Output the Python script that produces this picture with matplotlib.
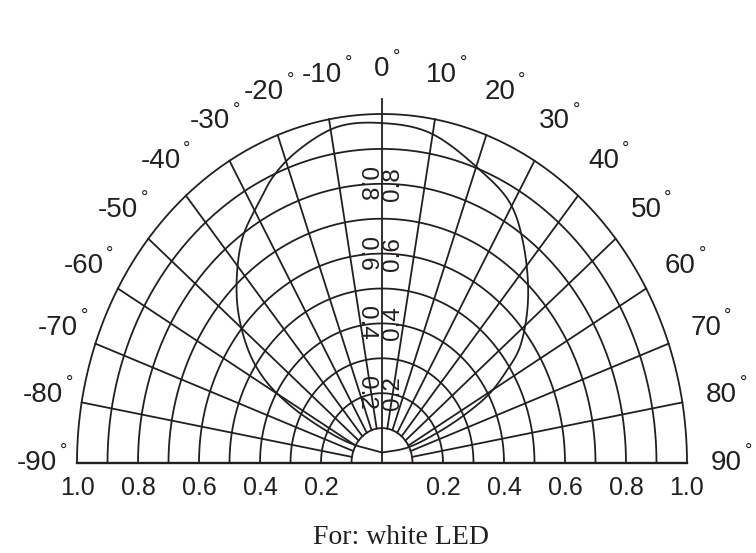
import numpy as np
import matplotlib
matplotlib.use("Agg")
import matplotlib.pyplot as plt

# ---------------- data ----------------
ring_values = [0.1, 0.2, 0.3, 0.4, 0.5, 0.6, 0.7, 0.8, 0.9, 1.0]
spoke_angles = [-80, -70, -60, -50, -40, -30, -20, -10, 10, 20, 30, 40, 50, 60, 70, 80]
angle_labels = [-90, -80, -70, -60, -50, -40, -30, -20, -10, 0, 10, 20, 30, 40, 50, 60, 70, 80, 90]
bottom_ticks = [0.2, 0.4, 0.6, 0.8, 1.0]
axis_ticks = [0.2, 0.4, 0.6, 0.8]

# radiation pattern, traced as one closed loop (angle in degrees, relative intensity)
pattern_deg = [0, -61.5, -63, -61, -57.8, -53.1, -45.5, -35.7, -27.9, -23.6,
               -17.8, -8.7, 0, 9.4, 20.9, 29.4, 36.3, 45.7, 53.7, 57, 60.5, 62.8,
               64.5, 62, 0]
pattern_r = [0.03, 0.119, 0.228, 0.356, 0.461, 0.553, 0.667, 0.787, 0.853,
             0.894, 0.933, 0.974, 0.974, 0.959, 0.899, 0.855, 0.782, 0.669, 0.561,
             0.489, 0.407, 0.313, 0.2, 0.093, 0.03]

caption = "For: white LED"

# ---------------- layout ----------------
W, H = 756, 553
CX, CY = 382, 463          # pixel position of the origin
SX, SY = 305, 349          # pixels per unit (the drawing is stretched vertically)
INK = "#231f20"
LW = 1.3

fig = plt.figure(figsize=(W / 100, H / 100), dpi=100)
ax = fig.add_axes([0, 0, 1, 1])
ax.set_xlim(-CX / SX, (W - CX) / SX)
ax.set_ylim(-(H - CY) / SY, CY / SY)
ax.axis("off")


def pol(r, deg):
    t = np.radians(deg)
    return np.asarray(r) * np.sin(t), np.asarray(r) * np.cos(t)


def smooth_curve(xs, ys, n=40, alpha=0.5):
    """centripetal Catmull-Rom through the traced points"""
    P = np.column_stack([xs, ys]).astype(float)
    P = np.vstack([2 * P[0] - P[1], P, 2 * P[-1] - P[-2]])
    out = []
    for i in range(1, len(P) - 2):
        p0, p1, p2, p3 = P[i - 1], P[i], P[i + 1], P[i + 2]
        t0 = 0.0
        t1 = t0 + max(np.linalg.norm(p1 - p0), 1e-9) ** alpha
        t2 = t1 + max(np.linalg.norm(p2 - p1), 1e-9) ** alpha
        t3 = t2 + max(np.linalg.norm(p3 - p2), 1e-9) ** alpha
        t = np.linspace(t1, t2, n, endpoint=False)[:, None]
        a1 = (t1 - t) / (t1 - t0) * p0 + (t - t0) / (t1 - t0) * p1
        a2 = (t2 - t) / (t2 - t1) * p1 + (t - t1) / (t2 - t1) * p2
        a3 = (t3 - t) / (t3 - t2) * p2 + (t - t2) / (t3 - t2) * p3
        b1 = (t2 - t) / (t2 - t0) * a1 + (t - t0) / (t2 - t0) * a2
        b2 = (t3 - t) / (t3 - t1) * a2 + (t - t1) / (t3 - t1) * a3
        c = (t2 - t) / (t2 - t1) * b1 + (t - t1) / (t2 - t1) * b2
        out.append(c)
    out.append(P[-2][None, :])
    o = np.vstack(out)
    return o[:, 0], o[:, 1]


# rings
th = np.linspace(-90, 90, 400)
for rv in ring_values:
    x, y = pol(rv, th)
    ax.plot(x, y, color=INK, lw=LW, solid_capstyle="butt")

# spokes
r_in = ring_values[0]
for a in spoke_angles:
    x, y = pol(np.array([r_in, 1.0]), a)
    ax.plot(x, y, color=INK, lw=LW)

# vertical axis and base line
ax.plot([0, 0], [0, 1.043], color=INK, lw=LW)
ax.plot([-1, 1], [0, 0], color=INK, lw=LW + 0.4)

# pattern curve
qx, qy = pol(pattern_r, pattern_deg)
px, py = smooth_curve(qx, qy)
ax.plot(px, py, color=INK, lw=LW)

# angle labels
label_r = 1.13
for a in angle_labels:
    x, y = pol(label_r, a)
    txt = ax.text(x, y, f"{a}", fontsize=20, family="Liberation Sans", color=INK,
                  ha="center", va="center")
    ax.annotate("°", xy=(1, 1), xycoords=txt, xytext=(2, -1), textcoords="offset points",
                ha="left", va="center", fontsize=13, family="Liberation Sans", color=INK)

# bottom tick labels
yb = -25 / SY
for v in bottom_ticks:
    for s in (-1, 1):
        ax.text(s * v, yb, f"{v:.1f}", fontsize=18, family="Liberation Sans", color=INK,
                ha="center", va="center")

# labels along the vertical axis
for v in axis_ticks:
    ax.text(-16 / SX, v, f"{v:.1f}", fontsize=17.5, family="Liberation Sans", color=INK,
            ha="center", va="center", rotation=270)
    ax.text(11 / SX, v, f"{v:.1f}", fontsize=17.5, family="Liberation Sans", color=INK,
            ha="center", va="center", rotation=90)

# caption
ax.text(19 / SX, -74 / SY, caption, fontsize=20, family="Liberation Serif", color=INK,
        ha="center", va="center")

fig.savefig("out.png", dpi=100)
